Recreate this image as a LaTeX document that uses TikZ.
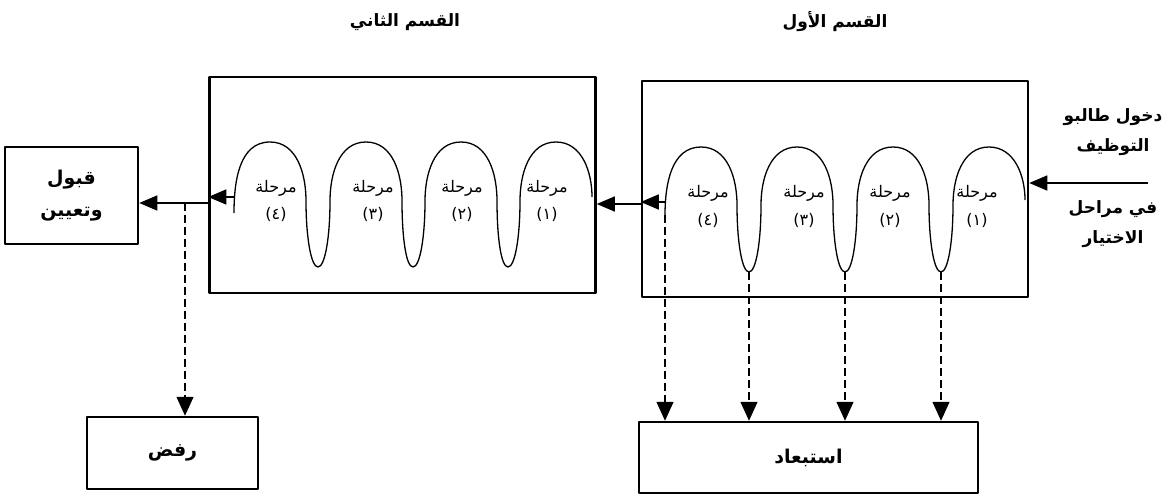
\documentclass[tikz,border=0pt]{standalone}
\usepackage{fontspec}
\usepackage{tikz}
\usetikzlibrary{arrows.meta}
\newfontfamily\arabicfont[Script=Arabic]{DejaVu Sans}
\TeXXeTstate=1
\newcommand{\rtl}[1]{\beginR #1\endR}

\begin{document}
\begin{tikzpicture}[x=1pt, y=-1pt, line join=round]
		\tikzstyle{part}=[draw, line width=2.5pt, minimum width=386pt, minimum height=216pt]
		\tikzstyle{result}=[draw, line width=2.5pt, align=center, font=\arabicfont\bfseries\fontsize{19}{32}\selectfont]
		\tikzstyle{title}=[font=\arabicfont\bfseries\fontsize{17}{20}\selectfont]
		\tikzstyle{side}=[align=center, font=\arabicfont\bfseries\fontsize{17}{30}\selectfont]
		\tikzstyle{stage}=[font=\arabicfont\fontsize{16}{18}\selectfont, inner sep=1pt]
		\tikzstyle{wave}=[line width=1.3pt]
		\tikzstyle{arr}=[line width=1.5pt, -{Triangle[length=18pt,width=15pt]}]
		\tikzstyle{darr}=[line width=1.4pt, dash pattern=on 8pt off 4pt, -{Triangle[length=19pt,width=17pt]}]

		\useasboundingbox (0,0) rectangle (1174,495);

    % Sections
		\node[part](part1) at (835,189){};
		\node[part](part2) at (402.5,185){};
		\node[title](t1) at (835,22){\rtl{القسم الأول}};
		\node[title](t2) at (405,22){\rtl{القسم الثاني}};

    % Results
		\node[result, minimum width=133pt, minimum height=97pt](accept) at (71.5,195.5){\rtl{قبول}\\\rtl{وتعيين}};
		\node[result, minimum width=171pt, minimum height=72pt](reject) at (172.5,453){\rtl{رفض}};
		\node[result, minimum width=339pt, minimum height=71pt](exclude) at (808.5,457.5){\rtl{استبعاد}};

    % Entry text
		\node[side](in1) at (1113,132){\rtl{دخول طالبو}\\\rtl{التوظيف}};
		\node[side](in2) at (1113,224){\rtl{في مراحل}\\\rtl{الاختيار}};

    % Stages of the first section
		\draw[wave] (665,215) coordinate (e4)
			to[out=90,in=180] (701,147) to[out=0,in=90] (737,205)
			.. controls (737,242) and (742,272) .. (749,272) coordinate (v3)
			.. controls (756,272) and (761,242) .. (761,205)
			to[out=90,in=180] (797,147) to[out=0,in=90] (833,205)
			.. controls (833,242) and (838,272) .. (845,272) coordinate (v2)
			.. controls (852,272) and (857,242) .. (857,205)
			to[out=90,in=180] (893,147) to[out=0,in=90] (929,205)
			.. controls (929,242) and (934,272) .. (941,272) coordinate (v1)
			.. controls (948,272) and (953,242) .. (953,205)
			to[out=90,in=180] (989,147) to[out=0,in=90] (1025,200);

		\node[stage](a1) at (977,193){\rtl{مرحلة}};
		\node[stage](a1n) at (977,220){(١)};
		\node[stage](a2) at (890,193){\rtl{مرحلة}};
		\node[stage](a2n) at (890,220){(٢)};
		\node[stage](a3) at (804,193){\rtl{مرحلة}};
		\node[stage](a3n) at (804,220){(٣)};
		\node[stage](a4) at (708,193){\rtl{مرحلة}};
		\node[stage](a4n) at (708,220){(٤)};

    % Stages of the second section
		\draw[wave] (234,213)
			to[out=90,in=180] (270,142) to[out=0,in=90] (306,201)
			.. controls (306,237) and (311,267) .. (318,267)
			.. controls (325,267) and (330,237) .. (330,201)
			to[out=90,in=180] (366,142) to[out=0,in=90] (402,201)
			.. controls (402,237) and (406,267) .. (413,267)
			.. controls (420,267) and (425,237) .. (425,201)
			to[out=90,in=180] (461,142) to[out=0,in=90] (497,201)
			.. controls (497,237) and (501,267) .. (508,267)
			.. controls (515,267) and (520,237) .. (520,201)
			to[out=90,in=180] (556,142) to[out=0,in=90] (592,197);

		\node[stage](b1) at (547,188){\rtl{مرحلة}};
		\node[stage](b1n) at (547,214){(١)};
		\node[stage](b2) at (462,188){\rtl{مرحلة}};
		\node[stage](b2n) at (462,214){(٢)};
		\node[stage](b3) at (373,188){\rtl{مرحلة}};
		\node[stage](b3n) at (373,214){(٣)};
		\node[stage](b4) at (276,188){\rtl{مرحلة}};
		\node[stage](b4n) at (276,214){(٤)};

    % Flow
		\coordinate (entry) at (1148,183);
		\coordinate (s1) at (665,202);
		\coordinate (link) at (641,204);
		\coordinate (s2) at (234,197);
		\coordinate (split) at (185,203);

		\draw[arr] (entry) -- (entry -| part1.east);
		\draw[arr] (s1) -- (s1 -| part1.west);
		\draw[arr] (link) -- (link -| part2.east);
		\draw[arr] (s2) -- (s2 -| part2.west);
		\draw[arr] (part2.west |- split) -- (accept.east |- split);

		\draw[darr] (split) -- (split |- reject.north);
		\draw[darr] (e4) -- (e4 |- exclude.north);
		\draw[darr] (v3) -- (v3 |- exclude.north);
		\draw[darr] (v2) -- (v2 |- exclude.north);
		\draw[darr] (v1) -- (v1 |- exclude.north);
  \end{tikzpicture}
\end{document}
